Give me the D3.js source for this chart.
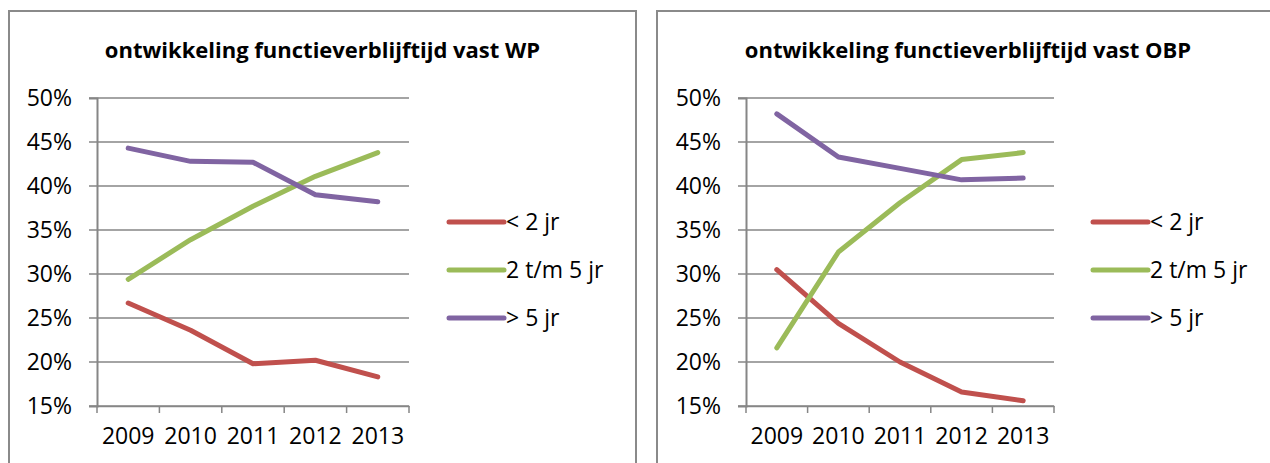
<!DOCTYPE html>
<html>
<head>
<meta charset="utf-8">
<script src="https://cdn.jsdelivr.net/npm/d3@7"></script>
<style>
  html, body { margin: 0; padding: 0; background: #fff; }
  svg { display: block; }
  text { font-family: "Open Sans", "Noto Sans", sans-serif; fill: #000; }
</style>
</head>
<body>
<div id="chart"></div>
<script>
const years = ["2009", "2010", "2011", "2012", "2013"];
const seriesNames = ["< 2 jr", "2 t/m 5 jr", "> 5 jr"];
const seriesColors = ["#C0504D", "#9BBB59", "#8064A2"];
const yTicks = [0.15, 0.20, 0.25, 0.30, 0.35, 0.40, 0.45, 0.50];

// vast WP
const wpShort = [0.267, 0.236, 0.198, 0.202, 0.183];
const wpMid = [0.294, 0.339, 0.377, 0.411, 0.438];
const wpLong = [0.443, 0.428, 0.427, 0.390, 0.382];

// vast OBP
const obpShort = [0.305, 0.244, 0.200, 0.166, 0.156];
const obpMid = [0.216, 0.325, 0.381, 0.430, 0.438];
const obpLong = [0.482, 0.433, 0.420, 0.407, 0.409];

const width = 1270;
const height = 463;

const svg = d3.select("#chart").append("svg")
    .attr("width", width)
    .attr("height", height);

function drawChart(opts) {
    const g = svg.append("g");

    // frame
    g.append("rect")
        .attr("x", opts.box[0])
        .attr("y", opts.box[1])
        .attr("width", opts.box[2])
        .attr("height", opts.box[3])
        .attr("fill", "none")
        .attr("stroke", "#8a8a8a")
        .attr("stroke-width", 2);

    g.append("text")
        .attr("x", opts.box[0] + opts.box[2] / 2)
        .attr("y", 50)
        .attr("dy", "0.35em")
        .attr("text-anchor", "middle")
        .style("font-weight", "bold")
        .style("font-size", "22px")
        .text(opts.title);

    const x = d3.scaleBand()
        .domain(years)
        .range([opts.left, opts.right]);

    const y = d3.scaleLinear()
        .domain([0.15, 0.50])
        .range([406, 98]);

    // gridlines
    g.append("g")
        .selectAll("line")
        .data(yTicks)
        .enter()
        .append("line")
        .attr("x1", opts.left - 8)
        .attr("x2", opts.right)
        .attr("y1", d => y(d))
        .attr("y2", d => y(d))
        .attr("stroke", "#868686")
        .attr("stroke-width", 1.5);

    const yAxis = g.append("g")
        .attr("transform", "translate(" + opts.left + ",0)")
        .call(d3.axisLeft(y).tickValues(yTicks).tickFormat(d3.format(".0%")).tickSize(8).tickPadding(17));
    yAxis.select(".domain").attr("stroke", "#868686").attr("stroke-width", 2);
    yAxis.selectAll(".tick line").attr("stroke", "none");
    yAxis.selectAll("text")
        .style("font-size", "23px")
        .attr("fill", "#000");

    const xAxis = g.append("g")
        .attr("transform", "translate(0," + y(0.15) + ")")
        .call(d3.axisBottom(x).tickSize(0).tickPadding(22));
    xAxis.select(".domain").attr("stroke", "#868686").attr("stroke-width", 1.5);
    xAxis.selectAll("text")
        .style("font-size", "23px")
        .attr("fill", "#000");

    // category boundary ticks
    const bounds = years.map(d => x(d)).concat([x(years[years.length - 1]) + x.bandwidth()]);
    g.append("g")
        .selectAll("line")
        .data(bounds)
        .enter()
        .append("line")
        .attr("x1", d => d)
        .attr("x2", d => d)
        .attr("y1", y(0.15))
        .attr("y2", y(0.15) + 7)
        .attr("stroke", "#868686")
        .attr("stroke-width", 1.5);

    const line = d3.line()
        .x((d, i) => x(years[i]) + x.bandwidth() / 2)
        .y(d => y(d));

    opts.series.forEach((vals, k) => {
        g.append("path")
            .datum(vals)
            .attr("fill", "none")
            .attr("stroke", seriesColors[k])
            .attr("stroke-width", 5)
            .attr("stroke-linecap", "round")
            .attr("stroke-linejoin", "round")
            .attr("d", line);
    });

    // legend
    const legend = g.append("g");
    seriesNames.forEach((name, k) => {
        const ly = 222 + k * 48;
        legend.append("line")
            .attr("x1", opts.legendX)
            .attr("x2", opts.legendX + 55)
            .attr("y1", ly)
            .attr("y2", ly)
            .attr("stroke", seriesColors[k])
            .attr("stroke-width", 5)
            .attr("stroke-linecap", "round");
        legend.append("text")
            .attr("x", opts.legendX + 57)
            .attr("y", ly)
            .attr("dy", "0.35em")
            .style("font-size", "23px")
            .text(name);
    });
}

drawChart({
    title: "ontwikkeling functieverblijftijd vast WP",
    box: [9, 11, 627, 470],
    left: 97,
    right: 409,
    legendX: 449,
    series: [wpShort, wpMid, wpLong]
});

drawChart({
    title: "ontwikkeling functieverblijftijd vast OBP",
    box: [657, 11, 622, 470],
    left: 746,
    right: 1054,
    legendX: 1093,
    series: [obpShort, obpMid, obpLong]
});
</script>
</body>
</html>
